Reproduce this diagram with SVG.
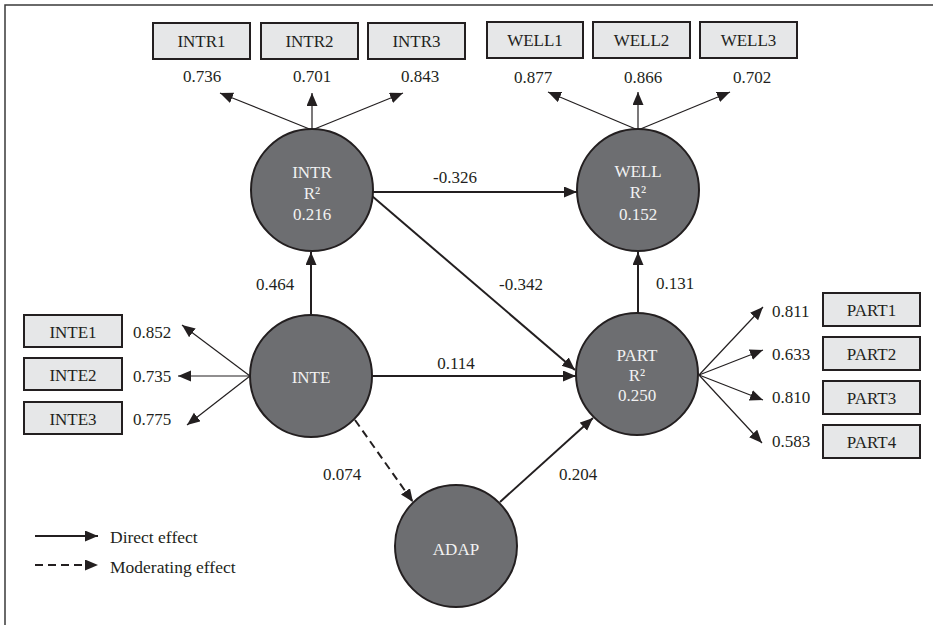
<svg xmlns="http://www.w3.org/2000/svg" width="933" height="625" viewBox="0 0 933 625">
<defs>
<style>
text{font-family:'Liberation Serif','DejaVu Serif','Times New Roman',serif;font-size:17px;fill:#231f20}
.box{fill:#e6e7e8;stroke:#231f20;stroke-width:2}
.lv{fill:#6d6e71;stroke:#231f20;stroke-width:2}
.lvt{fill:#f2f2f2;text-anchor:middle}
.bt{text-anchor:middle}
.path{stroke:#231f20;stroke-width:2;fill:none;marker-end:url(#ah)}
.ld{stroke:#231f20;stroke-width:1.2;fill:none;marker-end:url(#ah)}
.dash{stroke-dasharray:8 5}
.mid{text-anchor:middle}
</style>
<marker id="ah" markerUnits="userSpaceOnUse" markerWidth="14" markerHeight="12" refX="13" refY="5.5" orient="auto">
<path d="M0,0 L13,5.5 L0,11 z" fill="#231f20"/>
</marker>
</defs>
<rect width="933" height="625" fill="#fff"/>
<path d="M5,625 V5 H933" fill="none" stroke="#3a3a3a" stroke-width="1.5"/>

<g id="connectors">
<path class="path" d="M311,315 L311,252"/>
<path class="path" d="M373,192 L577,192"/>
<path class="path" d="M372,196 L575,370"/>
<path class="path" d="M372,376 L576,376"/>
<path class="path" d="M638,313 L638,252"/>
<path class="path dash" d="M355,420 L413,502"/>
<path class="path" d="M500,502 L593,418"/>
<path class="ld" d="M312,130 L220,93"/>
<path class="ld" d="M312,130 L312,93"/>
<path class="ld" d="M312,130 L403,93"/>
<path class="ld" d="M638,130 L548,92"/>
<path class="ld" d="M638,130 L638,92"/>
<path class="ld" d="M638,130 L730,92"/>
<path class="ld" d="M250,376 L182,325"/>
<path class="ld" d="M250,376 L178,376"/>
<path class="ld" d="M250,376 L187,425"/>
<path class="ld" d="M699,375 L763,307"/>
<path class="ld" d="M699,375 L763,350"/>
<path class="ld" d="M699,375 L763,400"/>
<path class="ld" d="M699,375 L762,443"/>
</g>

<g id="path-labels" font-family="Liberation Serif, serif">
<text class="mid" x="455" y="183">-0.326</text>
<text class="mid" x="521" y="290">-0.342</text>
<text class="mid" x="275" y="290">0.464</text>
<text class="mid" x="456" y="369">0.114</text>
<text class="mid" x="675" y="289">0.131</text>
<text class="mid" x="342" y="480">0.074</text>
<text class="mid" x="578" y="480">0.204</text>
<text class="mid" x="202" y="82">0.736</text>
<text class="mid" x="312" y="82">0.701</text>
<text class="mid" x="420" y="82">0.843</text>
<text class="mid" x="533" y="83">0.877</text>
<text class="mid" x="643" y="83">0.866</text>
<text class="mid" x="752" y="83">0.702</text>
<text x="133" y="338">0.852</text>
<text x="133" y="382">0.735</text>
<text x="133" y="425">0.775</text>
<text x="772" y="317">0.811</text>
<text x="772" y="360">0.633</text>
<text x="772" y="403">0.810</text>
<text x="772" y="447">0.583</text>
</g>

<g id="INTR"><circle class="lv" cx="312" cy="190" r="61"/><text class="lvt" x="312" y="178">INTR</text><text class="lvt" x="312" y="199">R²</text><text class="lvt" x="312" y="220">0.216</text></g>
<g id="WELL"><circle class="lv" cx="638" cy="190" r="61"/><text class="lvt" x="638" y="177">WELL</text><text class="lvt" x="638" y="198">R²</text><text class="lvt" x="638" y="220">0.152</text></g>
<g id="INTE"><circle class="lv" cx="311" cy="376" r="61"/><text class="lvt" x="311" y="383">INTE</text></g>
<g id="PART"><circle class="lv" cx="637" cy="374" r="61"/><text class="lvt" x="637" y="361">PART</text><text class="lvt" x="637" y="381">R²</text><text class="lvt" x="637" y="401">0.250</text></g>
<g id="ADAP"><circle class="lv" cx="456" cy="546" r="61"/><text class="lvt" x="456" y="555">ADAP</text></g>

<g id="INTR1"><rect class="box" x="153" y="23" width="97" height="36"/><text class="bt" x="201.5" y="47">INTR1</text></g>
<g id="INTR2"><rect class="box" x="261" y="23" width="97" height="36"/><text class="bt" x="309.5" y="47">INTR2</text></g>
<g id="INTR3"><rect class="box" x="368" y="23" width="97" height="36"/><text class="bt" x="416.5" y="47">INTR3</text></g>
<g id="WELL1"><rect class="box" x="487" y="22" width="96" height="36"/><text class="bt" x="535" y="46">WELL1</text></g>
<g id="WELL2"><rect class="box" x="593" y="22" width="97" height="36"/><text class="bt" x="641.5" y="46">WELL2</text></g>
<g id="WELL3"><rect class="box" x="700" y="22" width="97" height="36"/><text class="bt" x="748.5" y="46">WELL3</text></g>
<g id="INTE1"><rect class="box" x="24" y="315" width="98" height="32"/><text class="bt" x="73" y="338">INTE1</text></g>
<g id="INTE2"><rect class="box" x="24" y="358" width="98" height="32"/><text class="bt" x="73" y="381">INTE2</text></g>
<g id="INTE3"><rect class="box" x="24" y="402" width="98" height="32"/><text class="bt" x="73" y="425">INTE3</text></g>
<g id="PART1"><rect class="box" x="823" y="293" width="97" height="33"/><text class="bt" x="871.5" y="316">PART1</text></g>
<g id="PART2"><rect class="box" x="823" y="337" width="97" height="33"/><text class="bt" x="871.5" y="360">PART2</text></g>
<g id="PART3"><rect class="box" x="823" y="381" width="97" height="33"/><text class="bt" x="871.5" y="404">PART3</text></g>
<g id="PART4"><rect class="box" x="823" y="425" width="97" height="33"/><text class="bt" x="871.5" y="448">PART4</text></g>

<g id="legend">
<path class="path" d="M35,536 L98,536"/>
<path class="path dash" d="M35,565 L98,565"/>
<text x="110" y="543" style="font-size:17.5px">Direct effect</text>
<text x="110" y="573" style="font-size:17.5px">Moderating effect</text>
</g>
</svg>
